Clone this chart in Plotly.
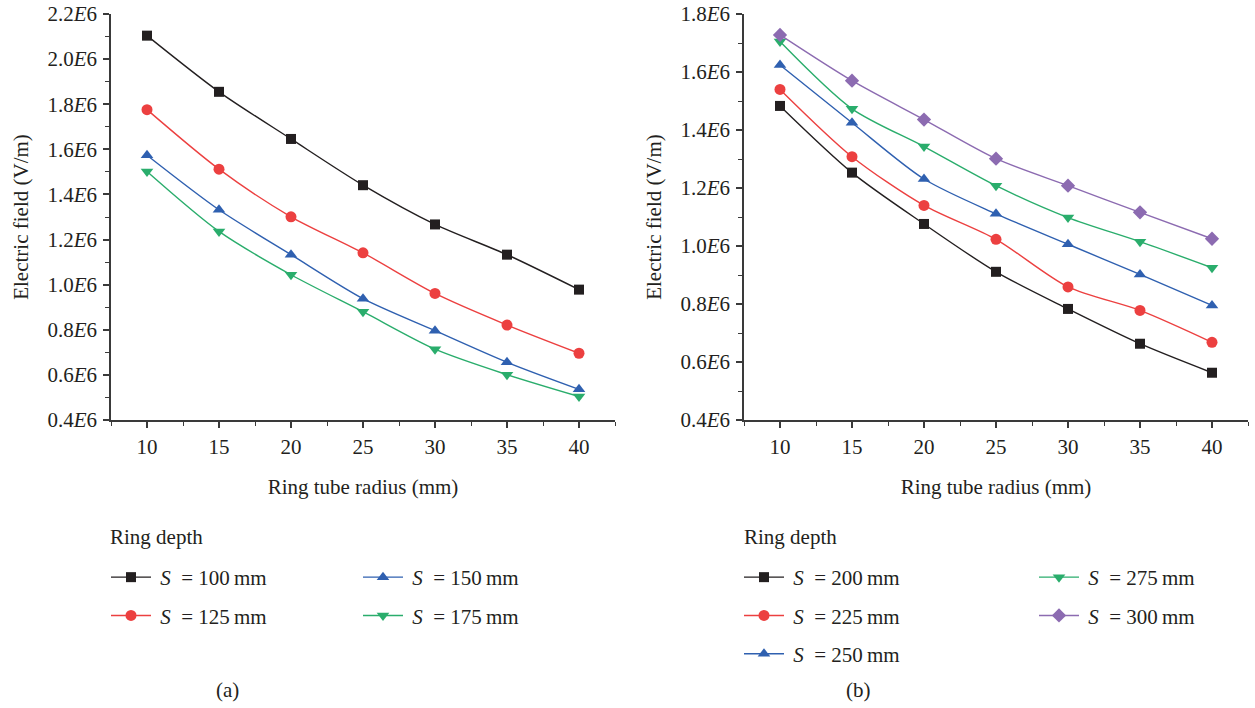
import plotly.graph_objects as go

# ---------------- data ----------------
radius = [10, 15, 20, 25, 30, 35, 40]

# panel (a): ring depth S = 100..175 mm
a_s100 = [2.104e6, 1.855e6, 1.646e6, 1.441e6, 1.267e6, 1.133e6, 0.978e6]
a_s125 = [1.776e6, 1.512e6, 1.301e6, 1.141e6, 0.961e6, 0.821e6, 0.696e6]
a_s150 = [1.574e6, 1.332e6, 1.133e6, 0.938e6, 0.796e6, 0.656e6, 0.536e6]
a_s175 = [1.502e6, 1.236e6, 1.044e6, 0.880e6, 0.714e6, 0.601e6, 0.504e6]

# panel (b): ring depth S = 200..300 mm
b_s200 = [1.483e6, 1.253e6, 1.076e6, 0.911e6, 0.783e6, 0.663e6, 0.563e6]
b_s225 = [1.540e6, 1.308e6, 1.140e6, 1.023e6, 0.859e6, 0.778e6, 0.668e6]
b_s250 = [1.624e6, 1.425e6, 1.231e6, 1.111e6, 1.006e6, 0.902e6, 0.795e6]
b_s275 = [1.705e6, 1.473e6, 1.343e6, 1.208e6, 1.098e6, 1.015e6, 0.925e6]
b_s300 = [1.728e6, 1.570e6, 1.436e6, 1.301e6, 1.208e6, 1.116e6, 1.025e6]

x_ticks = [10, 15, 20, 25, 30, 35, 40]
ya_tickvals = [0.4e6, 0.6e6, 0.8e6, 1.0e6, 1.2e6, 1.4e6, 1.6e6, 1.8e6, 2.0e6, 2.2e6]
ya_ticktext = ["0.4<i>E</i>6", "0.6<i>E</i>6", "0.8<i>E</i>6", "1.0<i>E</i>6", "1.2<i>E</i>6",
               "1.4<i>E</i>6", "1.6<i>E</i>6", "1.8<i>E</i>6", "2.0<i>E</i>6", "2.2<i>E</i>6"]
yb_tickvals = [0.4e6, 0.6e6, 0.8e6, 1.0e6, 1.2e6, 1.4e6, 1.6e6, 1.8e6]
yb_ticktext = ["0.4<i>E</i>6", "0.6<i>E</i>6", "0.8<i>E</i>6", "1.0<i>E</i>6",
               "1.2<i>E</i>6", "1.4<i>E</i>6", "1.6<i>E</i>6", "1.8<i>E</i>6"]

# ---------------- style ----------------
FONT = "Liberation Serif"
FS = 21
TXT = "#231f20"
AX = "#3a3a3a"
BLACK = "#231f20"
RED = "#ec4040"
BLUE = "#2f60b0"
GREEN = "#2aad6c"
PURPLE = "#8c6bb1"

W, H = 1255, 708


def px_x(p):
    return p / W


def px_y(p):
    return 1 - p / H


def name(v):
    return "\u2009<i>S</i>\u2002= " + v + "\u2009mm"


fig = go.Figure()

series = [
    # (x-axis, y-axis, values, label, color, symbol, legend)
    ("x", "y", a_s100, "100", BLACK, "square", "legend"),
    ("x", "y", a_s125, "125", RED, "circle", "legend"),
    ("x", "y", a_s150, "150", BLUE, "triangle-up", "legend2"),
    ("x", "y", a_s175, "175", GREEN, "triangle-down", "legend2"),
    ("x2", "y2", b_s200, "200", BLACK, "square", "legend3"),
    ("x2", "y2", b_s225, "225", RED, "circle", "legend3"),
    ("x2", "y2", b_s250, "250", BLUE, "triangle-up", "legend3"),
    ("x2", "y2", b_s275, "275", GREEN, "triangle-down", "legend4"),
    ("x2", "y2", b_s300, "300", PURPLE, "diamond", "legend4"),
]
for xa, ya, vals, lab, col, sym, leg in series:
    fig.add_trace(go.Scatter(
        x=radius, y=vals, xaxis=xa, yaxis=ya,
        mode="lines+markers", name=name(lab),
        line=dict(color=col, width=1.4, shape="spline", smoothing=0.8),
        marker=dict(color=col, symbol=sym, size=11 if sym != "square" else 10,
                    line=dict(width=0)),
        legend=leg, legendgroup=lab,
    ))

axis_common = dict(
    showline=True, linecolor=AX, linewidth=1.5, ticks="outside", ticklen=6,
    tickwidth=1.5, tickcolor=AX, showgrid=False, zeroline=False,
    tickfont=dict(family=FONT, size=FS, color=TXT),
    title_font=dict(family=FONT, size=FS, color=TXT),
    mirror=False, fixedrange=True, automargin=False,
)
minor_x = dict(ticks="outside", ticklen=4, tickwidth=1.2, tickcolor=AX,
               tickmode="linear", tick0=0, dtick=2.5)
minor_y = dict(ticks="outside", ticklen=4, tickwidth=1.2, tickcolor=AX,
               tickmode="linear", tick0=0, dtick=1e5)

xdom_a = [px_x(111), px_x(615)]
xdom_b = [px_x(744), px_x(1248)]
ydom = [px_y(420), px_y(14)]

fig.update_layout(
    width=W, height=H, autosize=False,
    margin=dict(l=0, r=0, t=0, b=0, pad=0),
    paper_bgcolor="white", plot_bgcolor="white",
    font=dict(family=FONT, size=FS, color=TXT),
    xaxis=dict(domain=xdom_a, anchor="y", range=[7.5, 42.5], tickmode="array",
               tickvals=x_ticks, ticklabelstandoff=1,
               title=dict(text="Ring tube radius (mm)", standoff=21),
               minor=minor_x, **axis_common),
    yaxis=dict(domain=ydom, anchor="x", range=[0.4e6, 2.2e6], tickmode="array",
               tickvals=ya_tickvals, ticktext=ya_ticktext, ticklabelstandoff=2,
               title=dict(text="Electric field (V/m)", standoff=13),
               minor=minor_y, **axis_common),
    xaxis2=dict(domain=xdom_b, anchor="y2", range=[7.5, 42.5], tickmode="array",
                tickvals=x_ticks, ticklabelstandoff=1,
                title=dict(text="Ring tube radius (mm)", standoff=21),
                minor=minor_x, **axis_common),
    yaxis2=dict(domain=ydom, anchor="x2", range=[0.4e6, 1.8e6], tickmode="array",
                tickvals=yb_tickvals, ticktext=yb_ticktext, ticklabelstandoff=2,
                title=dict(text="Electric field (V/m)", standoff=13),
                minor=minor_y, **axis_common),
)

leg_common = dict(
    orientation="v", xanchor="left", yanchor="top", bgcolor="rgba(0,0,0,0)",
    borderwidth=0, font=dict(family=FONT, size=FS, color=TXT),
    tracegroupgap=8, itemclick=False, itemdoubleclick=False, itemwidth=40,
)
fig.update_layout(
    legend=dict(x=px_x(106), y=px_y(557), **leg_common),
    legend2=dict(x=px_x(358), y=px_y(557), **leg_common),
    legend3=dict(x=px_x(739), y=px_y(557), **leg_common),
    legend4=dict(x=px_x(1034), y=px_y(557), **leg_common),
)

annotations = [
    dict(text="Ring depth", x=px_x(108), y=px_y(537), xanchor="left", yanchor="middle"),
    dict(text="Ring depth", x=px_x(742), y=px_y(537), xanchor="left", yanchor="middle"),
    dict(text="(a)", x=px_x(227), y=px_y(690), xanchor="center", yanchor="middle"),
    dict(text="(b)", x=px_x(858), y=px_y(690), xanchor="center", yanchor="middle"),
]
for a in annotations:
    fig.add_annotation(xref="paper", yref="paper", showarrow=False,
                       font=dict(family=FONT, size=FS, color=TXT), **a)

fig.write_html("out.html")
